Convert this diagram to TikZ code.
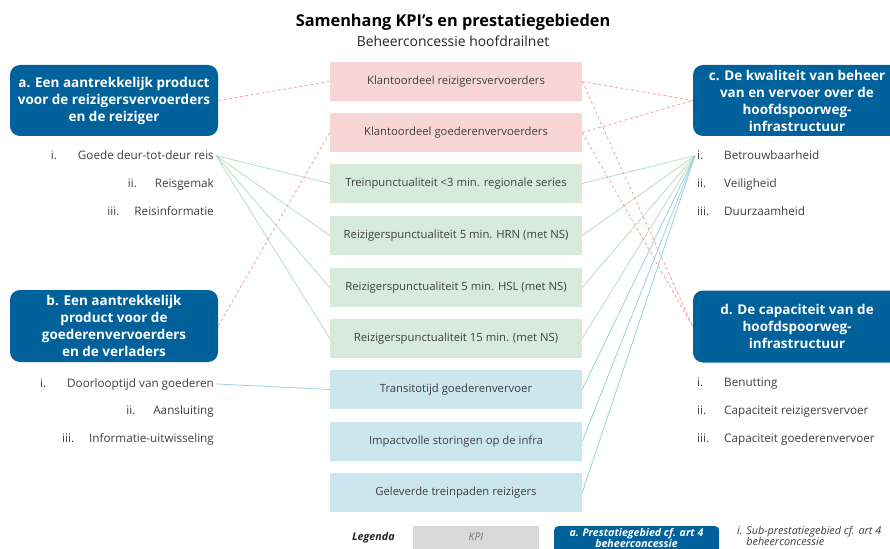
\documentclass[tikz,border=0pt]{standalone}
\usepackage{fontspec}
\setmainfont{Open Sans}
\definecolor{kblue}{HTML}{00619B}
\definecolor{kpink}{HTML}{F9D6D6}
\definecolor{kgreen}{HTML}{D6EBDB}
\definecolor{kcyan}{HTML}{CCE6EE}
\definecolor{ktext}{HTML}{404040}
\definecolor{lgreen}{HTML}{B8DDC3}
\definecolor{lblue}{HTML}{9DCFE3}
\definecolor{lpink}{HTML}{F2A3A3}
\definecolor{kgrey}{HTML}{D9D9D9}
\begin{document}
\begin{tikzpicture}[x=1pt,y=-1pt,
  kpi/.style={rectangle, minimum width=252pt, minimum height=39pt, inner sep=0pt, text=ktext, font=\fontsize{11.3}{13}\selectfont},
  area/.style={rectangle, rounded corners=10pt, fill=kblue, minimum width=208pt, text=white, align=center, font=\fontsize{13.5}{17}\bfseries\selectfont, inner sep=0pt},
  item/.style={text=ktext, font=\fontsize{11.7}{13}\selectfont, inner sep=2pt},
  gl/.style={draw=lgreen, line width=0.8pt},
  bl/.style={draw=lblue, line width=0.8pt},
  pl/.style={draw=lpink, line width=0.8pt, dash pattern=on 3pt off 2.5pt}
]
\clip (0,0) rectangle (890,548);
\fill[white] (0,0) rectangle (890,548);

% title
\node[font=\fontsize{16.3}{19}\bfseries\selectfont, text=black] (title) at (453,22) {Samenhang KPI’s en prestatiegebieden};
\node[font=\fontsize{13.9}{16}\selectfont, text=black!85] (sub) at (453,41) {Beheerconcessie hoofdrailnet};

% KPI boxes
\node[kpi, fill=kpink] (k1) at (456,81.5) {Klantoordeel reizigersvervoerders};
\node[kpi, fill=kpink] (k2) at (456,132.5) {Klantoordeel goederenvervoerders};
\node[kpi, fill=kgreen] (g1) at (456,183.5) {Treinpunctualiteit <3 min. regionale series};
\node[kpi, fill=kgreen] (g2) at (456,235.5) {Reizigerspunctualiteit 5 min. HRN (met NS)};
\node[kpi, fill=kgreen] (g3) at (456,287.5) {Reizigerspunctualiteit 5 min. HSL (met NS)};
\node[kpi, fill=kgreen] (g4) at (456,338.5) {Reizigerspunctualiteit 15 min. (met NS)};
\node[kpi, fill=kcyan] (b1) at (456,389.5) {Transitotijd goederenvervoer};
\node[kpi, fill=kcyan] (b2) at (456,441.5) {Impactvolle storingen op de infra};
\node[kpi, fill=kcyan] (b3) at (456,492.5) {Geleverde treinpaden reizigers};

% area boxes
\node[area, minimum height=71pt] (A) at (114,100.5) {a. Een aantrekkelijk product\\voor de reizigersvervoerders\\en de reiziger};
\node[area, minimum height=72pt] (B) at (114,326) {b. Een aantrekkelijk\\product voor de\\goederenvervoerders\\en de verladers};
\node[area, minimum height=71pt] (C) at (797,100.5) {c. De kwaliteit van beheer\\van en vervoer over de\\hoofdspoorweg-\\infrastructuur};
\node[area, minimum height=72pt] (D) at (797,326.5) {d. De capaciteit van de\\hoofdspoorweg-\\infrastructuur};

% left lists
\node[item, anchor=base east] (a1) at (216,160) {\makebox[27pt][l]{i.}Goede deur-tot-deur reis};
\node[item, anchor=base east] (a2) at (216,187) {\makebox[27pt][l]{ii.}Reisgemak};
\node[item, anchor=base east] (a3) at (216,215.5) {\makebox[27pt][l]{iii.}Reisinformatie};
\node[item, anchor=base east] (bb1) at (216,387) {\makebox[27pt][l]{i.}Doorlooptijd van goederen};
\node[item, anchor=base east] (bb2) at (216,414) {\makebox[27pt][l]{ii.}Aansluiting};
\node[item, anchor=base east] (bb3) at (216,442) {\makebox[27pt][l]{iii.}Informatie-uitwisseling};

% right lists
\node[item, anchor=base west] (c1) at (695,160) {\makebox[27pt][l]{i.}Betrouwbaarheid};
\node[item, anchor=base west] (c2) at (695,187) {\makebox[27pt][l]{ii.}Veiligheid};
\node[item, anchor=base west] (c3) at (695,215.5) {\makebox[27pt][l]{iii.}Duurzaamheid};
\node[item, anchor=base west] (d1) at (695,386) {\makebox[27pt][l]{i.}Benutting};
\node[item, anchor=base west] (d2) at (695,414) {\makebox[27pt][l]{ii.}Capaciteit reizigersvervoer};
\node[item, anchor=base west] (d3) at (695,442) {\makebox[27pt][l]{iii.}Capaciteit goederenvervoer};

% connectors
\foreach \t in {g1,g2,g3,g4} {
  \draw[gl] (a1.east) -- (\t.west);
  \draw[gl] (c1.west) -- (\t.east);
}
\foreach \t in {b1,b2,b3} {
  \draw[bl] (c1.west) -- (\t.east);
}
\draw[bl] (bb1.east) -- (b1.west);
\draw[pl] (A.east) -- (k1.west);
\draw[pl] (B.east) -- (k2.west);
\draw[pl] (k1.east) -- (C.west);
\draw[pl] (k2.east) -- (C.west);
\draw[pl] (k1.east) -- (D.west);
\draw[pl] (k2.east) -- (D.west);

% legend
\node[font=\fontsize{10.7}{12}\bfseries\itshape\selectfont, text=black!85, anchor=west, inner sep=0pt] (leg) at (352,538) {Legenda};
\node[fill=kgrey, minimum width=126pt, minimum height=32pt, anchor=north west, inner sep=0pt] (lkpi) at (413,526) {};
\node[font=\fontsize{10.5}{12}\itshape\selectfont, text=black!55] (lkpit) at (476,537) {KPI};
\node[fill=kblue, rounded corners=4pt, minimum width=165pt, minimum height=32pt, anchor=north west, inner sep=0pt] (lpg) at (554,526) {};
\node[font=\fontsize{10.6}{11.5}\bfseries\itshape\selectfont, text=white, align=center, inner sep=0pt] (lpgt) at (636.5,538) {a. Prestatiegebied cf. art 4\\beheerconcessie};
\node[font=\fontsize{10.8}{11.5}\itshape\selectfont, text=ktext, align=left, anchor=north west, inner sep=0pt] (lsub) at (737,526) {i. Sub-prestatiegebied cf. art 4\\\hphantom{i. }beheerconcessie};
\end{tikzpicture}
\end{document}
